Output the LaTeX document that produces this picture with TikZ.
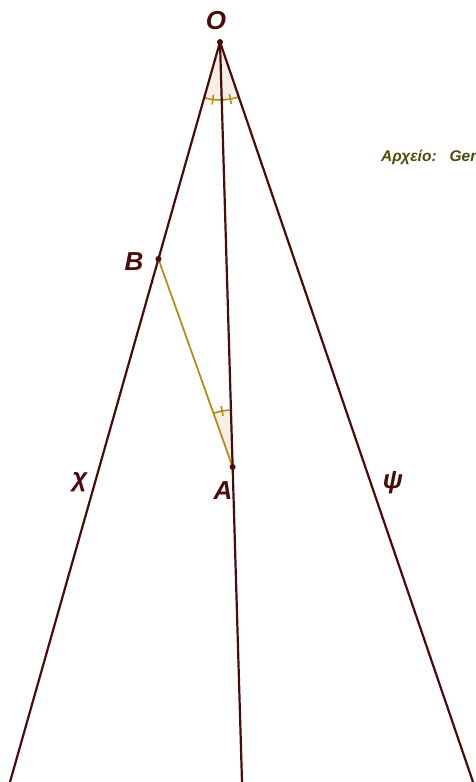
\documentclass[tikz,border=0pt]{standalone}
\usepackage{fontspec}
\setmainfont{Liberation Sans}
\usetikzlibrary{calc}
\definecolor{rayred}{HTML}{4A0B0B}
\definecolor{goldline}{HTML}{B8860B}
\definecolor{sectorfill}{HTML}{F4F0E6}
\definecolor{olivetext}{HTML}{4D4D0A}

\begin{document}
\begin{tikzpicture}[
  x=1pt, y=1pt,
  ray/.style={draw=rayred, line width=2.2pt},
  seg/.style={draw=goldline, line width=1.7pt},
  anglemark/.style={draw=goldline, line width=1.5pt},
  dot/.style={circle, fill=rayred, inner sep=0pt, minimum size=6pt},
  lbl/.style={text=rayred, font=\fontsize{26}{28}\selectfont\bfseries\itshape, inner sep=0pt}
]
\useasboundingbox (0,-782) rectangle (475,0);
\clip (0,-782) rectangle (475,0);
% points
\coordinate (O) at (220,-42);
\coordinate (Lend) at (10,-782);
\coordinate (Mend) at (242,-782);
\coordinate (Rend) at (473,-782);
\coordinate (B) at ($(O)!0.2932!(Lend)$);
\coordinate (A) at ($(O)!0.5743!(Mend)$);
% angle sectors
\fill[sectorfill] (O) -- ++(-105.84:58) arc[start angle=-105.84, end angle=-71.13, radius=58] -- cycle;
\fill[sectorfill] (A) -- ++(91.75:57) arc[start angle=91.75, end angle=109.58, radius=57] -- cycle;
\draw[anglemark] ($(O)+(-105.84:58)$) arc[start angle=-105.84, end angle=-71.13, radius=58];
\draw[anglemark] ($(O)+(-97.07:53)$) -- ($(O)+(-97.07:63)$);
\draw[anglemark] ($(O)+(-79.7:53)$) -- ($(O)+(-79.7:63)$);
\draw[anglemark] ($(A)+(91.75:57)$) arc[start angle=91.75, end angle=109.58, radius=57];
\draw[anglemark] ($(A)+(100.67:52)$) -- ($(A)+(100.67:62)$);
% rays and segment
\draw[seg] (B) -- (A);
\draw[ray] (O) -- (Lend);
\draw[ray] (O) -- (Mend);
\draw[ray] (O) -- (Rend);
\node[dot] (dO) at (O) {};
\node[dot] (dB) at (B) {};
\node[dot] (dA) at (A) {};
% labels
\node[lbl] (labO) at (216,-21) {O};
\node[lbl] (labB) at (134,-262) {B};
\node[lbl] (labA) at (223,-491) {A};
\node[lbl] (labX) at (80,-482) {χ};
\node[lbl] (labY) at (393,-483) {ψ};
\node[anchor=west, text=olivetext, font=\fontsize{15.5}{17}\selectfont\bfseries\itshape, inner sep=0pt] (file) at (381,-157) {Αρχείο:\ \ \ Gen};
\end{tikzpicture}
\end{document}
